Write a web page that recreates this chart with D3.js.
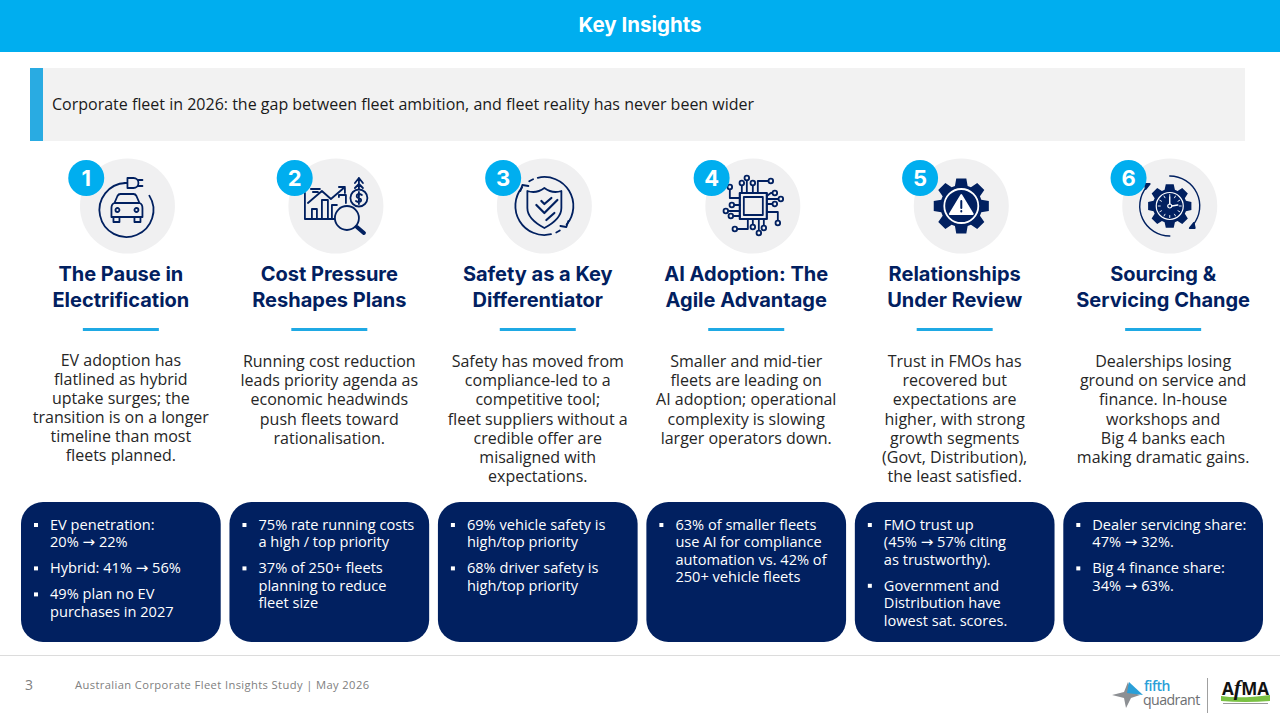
<!DOCTYPE html>
<html>
<head>
<meta charset="utf-8">
<script src="https://cdn.jsdelivr.net/npm/d3@7"></script>
<style>
  html, body { margin: 0; padding: 0; background: #fff; }
  text { font-family: "Open Sans", sans-serif; }
  .head { font-family: Inter, sans-serif; font-weight: 700; }
</style>
</head>
<body>
<main></main>
<script>
// Slide content
const pageTitle = "Key Insights";
const bannerText = "Corporate fleet in 2026: the gap between fleet ambition, and fleet reality has never been wider";
const footerText = "Australian Corporate Fleet Insights Study | May 2026";
const pageNumber = "3";

const ids = [1, 2, 3, 4, 5, 6];

const titles = [
  ["The Pause in", "Electrification"],
  ["Cost Pressure", "Reshapes Plans"],
  ["Safety as a Key", "Differentiator"],
  ["AI Adoption: The", "Agile Advantage"],
  ["Relationships", "Under Review"],
  ["Sourcing &", "Servicing Change"]
];

const bodies = [
  ["EV adoption has", "flatlined as hybrid", "uptake surges; the", "transition is on a longer", "timeline than most", "fleets planned."],
  ["Running cost reduction", "leads priority agenda as", "economic headwinds", "push fleets toward", "rationalisation."],
  ["Safety has moved from", "compliance-led to a", "competitive tool;", "fleet suppliers without a", "credible offer are", "misaligned with", "expectations."],
  ["Smaller and mid-tier", "fleets are leading on", "AI adoption; operational", "complexity is slowing", "larger operators down."],
  ["Trust in FMOs has", "recovered but", "expectations are", "higher, with strong", "growth segments", "(Govt, Distribution),", "the least satisfied."],
  ["Dealerships losing", "ground on service and", "finance. In-house", "workshops and", "Big 4 banks each", "making dramatic gains."]
];

const bullets = [
  [["EV penetration:", "20% → 22%"], ["Hybrid: 41% → 56%"], ["49% plan no EV", "purchases in 2027"]],
  [["75% rate running costs", "a high / top priority"], ["37% of 250+ fleets", "planning to reduce", "fleet size"]],
  [["69% vehicle safety is", "high/top priority"], ["68% driver safety is", "high/top priority"]],
  [["63% of smaller fleets", "use AI for compliance", "automation vs. 42% of", "250+ vehicle fleets"]],
  [["FMO trust up", "(45% → 57% citing", "as trustworthy)."], ["Government and", "Distribution have", "lowest sat. scores."]],
  [["Dealer servicing share:", "47% → 32%."], ["Big 4 finance share:", "34% → 63%."]]
];

const navy = "#012060";
const sky = "#00AEEF";
const disc = "#f0f0f1";

const svg = d3.select("main").append("svg")
  .attr("width", 1280).attr("height", 720)
  .style("display", "block");

// Header and banner
svg.append("rect").attr("width", 1280).attr("height", 52).attr("fill", sky);
svg.append("text").attr("class", "head")
  .attr("x", 640).attr("y", 32).attr("text-anchor", "middle")
  .attr("font-size", 20.5).attr("fill", "#fff").text(pageTitle);

svg.append("rect").attr("x", 30).attr("y", 68).attr("width", 1215).attr("height", 73).attr("fill", "#f2f2f2");
svg.append("rect").attr("x", 30).attr("y", 68).attr("width", 13).attr("height", 73).attr("fill", "#29abe2");
svg.append("text").attr("x", 52).attr("y", 110)
  .attr("font-size", 16).attr("fill", "#1a1a1a").text(bannerText);

// One band per column
const x = d3.scaleBand().domain(ids).range([21, 1263]).paddingInner(0.042);
const mid = d => x(d) + x.bandwidth() / 2;

const columns = svg.append("g").selectAll("g")
  .data(ids)
  .enter().append("g");

// Icon discs and number badges
columns.append("circle")
  .attr("cx", d => mid(d) + 6.6).attr("cy", 206).attr("r", 47.5).attr("fill", disc);

const iconLayer = columns.append("g")
  .attr("transform", d => `translate(${mid(d) + 6.6},206)`)
  .attr("fill", "none").attr("stroke", navy).attr("stroke-width", 1.8)
  .attr("stroke-linecap", "round").attr("stroke-linejoin", "round");

columns.append("circle")
  .attr("cx", d => mid(d) - 34.6).attr("cy", 178).attr("r", 18).attr("fill", sky);
columns.append("text").attr("class", "head")
  .attr("x", d => mid(d) - 34.6).attr("y", 186).attr("text-anchor", "middle")
  .attr("font-size", 22).attr("fill", "#fff").text(d => d);

// Headings
columns.selectAll(".title")
  .data(d => titles[d - 1].map(t => ({ d, t })))
  .enter().append("text").attr("class", "head title")
  .attr("x", o => mid(o.d)).attr("y", (o, i) => 281 + i * 26)
  .attr("text-anchor", "middle").attr("font-size", 20).attr("fill", navy)
  .text(o => o.t);

columns.append("rect")
  .attr("x", d => mid(d) - 38).attr("y", 328).attr("width", 76).attr("height", 3)
  .attr("fill", "#1fa9e4");

// Body copy
columns.selectAll(".body")
  .data(d => bodies[d - 1].map(t => ({ d, t })))
  .enter().append("text").attr("class", "body")
  .attr("x", o => mid(o.d))
  .attr("y", (o, i) => o.d === 1 ? 366 + i * 19 : 367 + i * 19.2)
  .attr("text-anchor", "middle").attr("font-size", 16).attr("fill", "#262626")
  .text(o => o.t);

// Bullet cards
columns.append("rect")
  .attr("x", d => x(d)).attr("y", 502)
  .attr("width", x.bandwidth()).attr("height", 140)
  .attr("rx", 22).attr("fill", navy);

// Open Sans has a stubby arrow, so the arrow gets its own wider font
const writeLine = (sel, line) => {
  line.split("→").forEach((part, i) => {
    if (i > 0) sel.append("tspan").attr("font-family", "DejaVu Sans").attr("font-size", 15).text("→");
    sel.append("tspan").text(part);
  });
};

columns.each(function (d) {
  const card = d3.select(this);
  let y = 530;
  bullets[d - 1].forEach(lines => {
    card.append("rect")
      .attr("x", x(d) + 13).attr("y", y - 7).attr("width", 4).attr("height", 4).attr("fill", "#fff");
    lines.forEach(line => {
      const t = card.append("text")
        .attr("x", x(d) + 29).attr("y", y)
        .attr("font-size", 14.6).attr("fill", "#fff");
      writeLine(t, line);
      y += 17.4;
    });
    y += 8.6;
  });
});

// Icons, drawn in the local space of each disc
const gear = (outer, inner, teeth) => {
  const step = Math.PI * 2 / teeth;
  const pts = [];
  d3.range(teeth).forEach(i => {
    const a = i * step - Math.PI / 2;
    [[inner, -0.34], [outer, -0.2], [outer, 0.2], [inner, 0.34]].forEach(([r, k]) => {
      pts.push([r * Math.cos(a + k * step * 1.15), r * Math.sin(a + k * step * 1.15)]);
    });
  });
  return d3.line().curve(d3.curveLinearClosed)(pts);
};
const arc = (r, a0, a1) => d3.arc()({ innerRadius: r, outerRadius: r, startAngle: a0, endAngle: a1 });

const icons = {
  1: g => {
    g.append("path").attr("transform", "translate(-1,4)").attr("d", arc(27, 1.01, 6.25));
    g.append("path").attr("d", "M0,-28 h6 a5,5 0 0 1 0,10 h-6 z M11,-26 h4 M11,-20 h4 M0,-23 h-3");
    g.append("path").attr("d", "M-13,-3 L-10,-10 Q-9,-12 -7,-12 H6 Q8,-12 9,-10 L12,-3 Q15,-2 15,2 V11 H-16 V2 Q-16,-2 -13,-3 Z M-13,-3 H12 M-14,11 V16 H-8 V11 M7,11 V16 H13 V11");
    g.append("circle").attr("cx", -10).attr("cy", 4).attr("r", 2);
    g.append("circle").attr("cx", 9).attr("cy", 4).attr("r", 2);
  },
  2: g => {
    g.append("path").attr("d", "M-31,-13 V13 H0 M-24,13 V3 H-19 V13 M-14,13 V-6 H-8 V13 M-4,13 V-1 H1 M3,-9 V-11 H10 V-3");
    g.append("path").attr("d", "M-28,-3 L-14,-15 L-5,-7 L9,-19 M3,-19 H9 V-13 M-25,-17 H-16 M-23,-14 H-18");
    g.append("circle").attr("cx", 23).attr("cy", -8).attr("r", 8.5);
    g.append("path").attr("d", "M26,-11 Q23,-13 21,-11 Q20,-8.5 23,-8 Q26,-7 25,-5 Q23,-3 20,-5 M23,-14 V-2 M23,-17 V-28 M19,-23 L23,-28 L27,-23 M19,-18 L23,-22 L27,-18");
    g.append("circle").attr("cx", 11).attr("cy", 12).attr("r", 12).attr("fill", disc);
    g.append("path").attr("stroke-width", 4).attr("d", "M21,21 L28,27");
  },
  3: g => {
    g.append("path").attr("d", "M0,-18 Q8,-12 17,-15 V2 Q17,13 0,22 Q-17,13 -17,2 V-15 Q-8,-12 0,-18 Z");
    g.append("path").attr("stroke-width", 2.2).attr("d", "M-8,-1 L0,7 L13,-6 M-3,-5 L0,-2 L7,-8 M2,14 L10,7");
    g.append("path").attr("d", arc(29, -0.23, 2.27));
    g.append("path").attr("d", arc(29, 2.91, 5.41));
    g.append("path").attr("d", arc(29, -0.55, -0.4));
    g.append("path").attr("d", arc(29, 2.58, 2.72));
    g.append("path").attr("d", "M-24,-15 L-22,-21 L-16,-20 M24,15 L22,21 L16,20");
  },
  4: g => {
    g.append("rect").attr("x", -13).attr("y", -13).attr("width", 27).attr("height", 26).attr("stroke-width", 2.2);
    g.append("rect").attr("x", -9).attr("y", -9).attr("width", 19).attr("height", 18);
    const pins = [
      [[-11, -13], [-11, -23]], [[-6, -13], [-6, -28]], [[0, -13], [0, -23]],
      [[5, -13], [5, -25], [18, -25]], [[14, -10], [18, -13], [22, -13]], [[14, -7], [28, -7]], [[14, -2], [22, -2]],
      [[14, 6], [25, 6], [25, 17]], [[-13, -8], [-23, -8], [-23, -19]], [[-13, -1], [-21, -1]],
      [[-13, 5], [-27, 5]], [[-13, 10], [-22, 10]], [[-5, 13], [-5, 23], [-18, 23]],
      [[0, 13], [0, 21]], [[6, 13], [6, 27]], [[11, 13], [11, 22]]
    ];
    pins.forEach(pts => {
      g.append("path").attr("d", d3.line()(pts));
      const end = pts[pts.length - 1];
      g.append("circle").attr("cx", end[0]).attr("cy", end[1]).attr("r", 2.3).attr("fill", disc);
    });
  },
  5: g => {
    g.append("path").attr("d", gear(28, 21, 8)).attr("fill", navy).attr("stroke", "none");
    g.append("circle").attr("r", 17).attr("stroke", "#fff").attr("stroke-width", 1.8);
    g.append("path").attr("d", "M0,-11 L11.5,8 H-11.5 Z").attr("fill", "#fff").attr("stroke", "#fff");
    g.append("path").attr("d", "M0,-5 V2 M0,5 V5.5").attr("stroke", navy).attr("stroke-width", 2);
  },
  6: g => {
    g.append("path").attr("d", gear(22, 17, 8)).attr("fill", navy).attr("stroke", "none");
    g.append("circle").attr("r", 13.5).attr("stroke", "#fff").attr("stroke-width", 1.2);
    d3.range(12).forEach(i => {
      const a = i * Math.PI / 6;
      g.append("line").attr("stroke", "#fff").attr("stroke-width", 0.9)
        .attr("x1", 9.5 * Math.sin(a)).attr("y1", -9.5 * Math.cos(a))
        .attr("x2", 11.5 * Math.sin(a)).attr("y2", -11.5 * Math.cos(a));
    });
    g.append("path").attr("d", "M0,-9 V-2 M2,0 L8,-1").attr("stroke", "#fff").attr("stroke-width", 1.4);
    g.append("circle").attr("r", 2).attr("stroke", "#fff").attr("stroke-width", 1.2);
    g.append("path").attr("stroke-width", 1.4).attr("d", arc(30, 0, 2.25));
    g.append("path").attr("stroke-width", 1.4).attr("d", arc(30, 3.14, 5.4));
    g.append("path").attr("d", "M-20,-22 L-25,-22 L-24,-17 Z M20,22 L25,22 L24,17 Z").attr("fill", navy);
  }
};
iconLayer.each(function (d) { icons[d](d3.select(this)); });

// Footer
svg.append("line").attr("x1", 0).attr("x2", 1280).attr("y1", 655.5).attr("y2", 655.5).attr("stroke", "#dcdcdc");
svg.append("text").attr("x", 25).attr("y", 690).attr("font-size", 14).attr("fill", "#7f7f7f").text(pageNumber);
svg.append("text").attr("x", 75).attr("y", 689).attr("font-size", 11.2)
  .attr("letter-spacing", 0.38).attr("fill", "#808080").text(footerText);

// Logos
const logos = svg.append("g");
logos.append("path").attr("d", "M1112,695 L1124,692 L1128,682 L1131,692 L1140,695 L1131,698 L1126,708 L1124,698 Z").attr("fill", "#8c8f93");
logos.append("path").attr("d", "M1129,682 L1143,695 L1127,693 Z").attr("fill", "#2a9fd8");
logos.append("text").attr("x", 1144).attr("y", 691).attr("font-size", 14).attr("font-weight", 600)
  .attr("letter-spacing", -0.5).attr("fill", "#2a9fd8").text("fifth");
logos.append("text").attr("x", 1143).attr("y", 705).attr("font-size", 14.2)
  .attr("letter-spacing", -0.6).attr("fill", "#6d6f72").text("quadrant");
logos.append("line").attr("x1", 1207.5).attr("x2", 1207.5).attr("y1", 678).attr("y2", 713).attr("stroke", "#a0a0a0");
logos.append("path").attr("d", "M1221,696 Q1240,699 1270,695 V701 Q1245,703 1221,701 Z").attr("fill", "#7ac143");
logos.append("rect").attr("x", 1223).attr("y", 703).attr("width", 45).attr("height", 1).attr("fill", "#9a9a9a");
const afma = logos.append("text").attr("x", 1245.5).attr("y", 695).attr("text-anchor", "middle")
  .attr("font-family", "Liberation Sans").attr("font-weight", 700).attr("font-size", 17)
  .attr("fill", "#111");
afma.append("tspan").text("A");
afma.append("tspan").attr("font-family", "Liberation Serif").attr("font-style", "italic").attr("font-size", 22).text("f");
afma.append("tspan").text("MA");
</script>
</body>
</html>
